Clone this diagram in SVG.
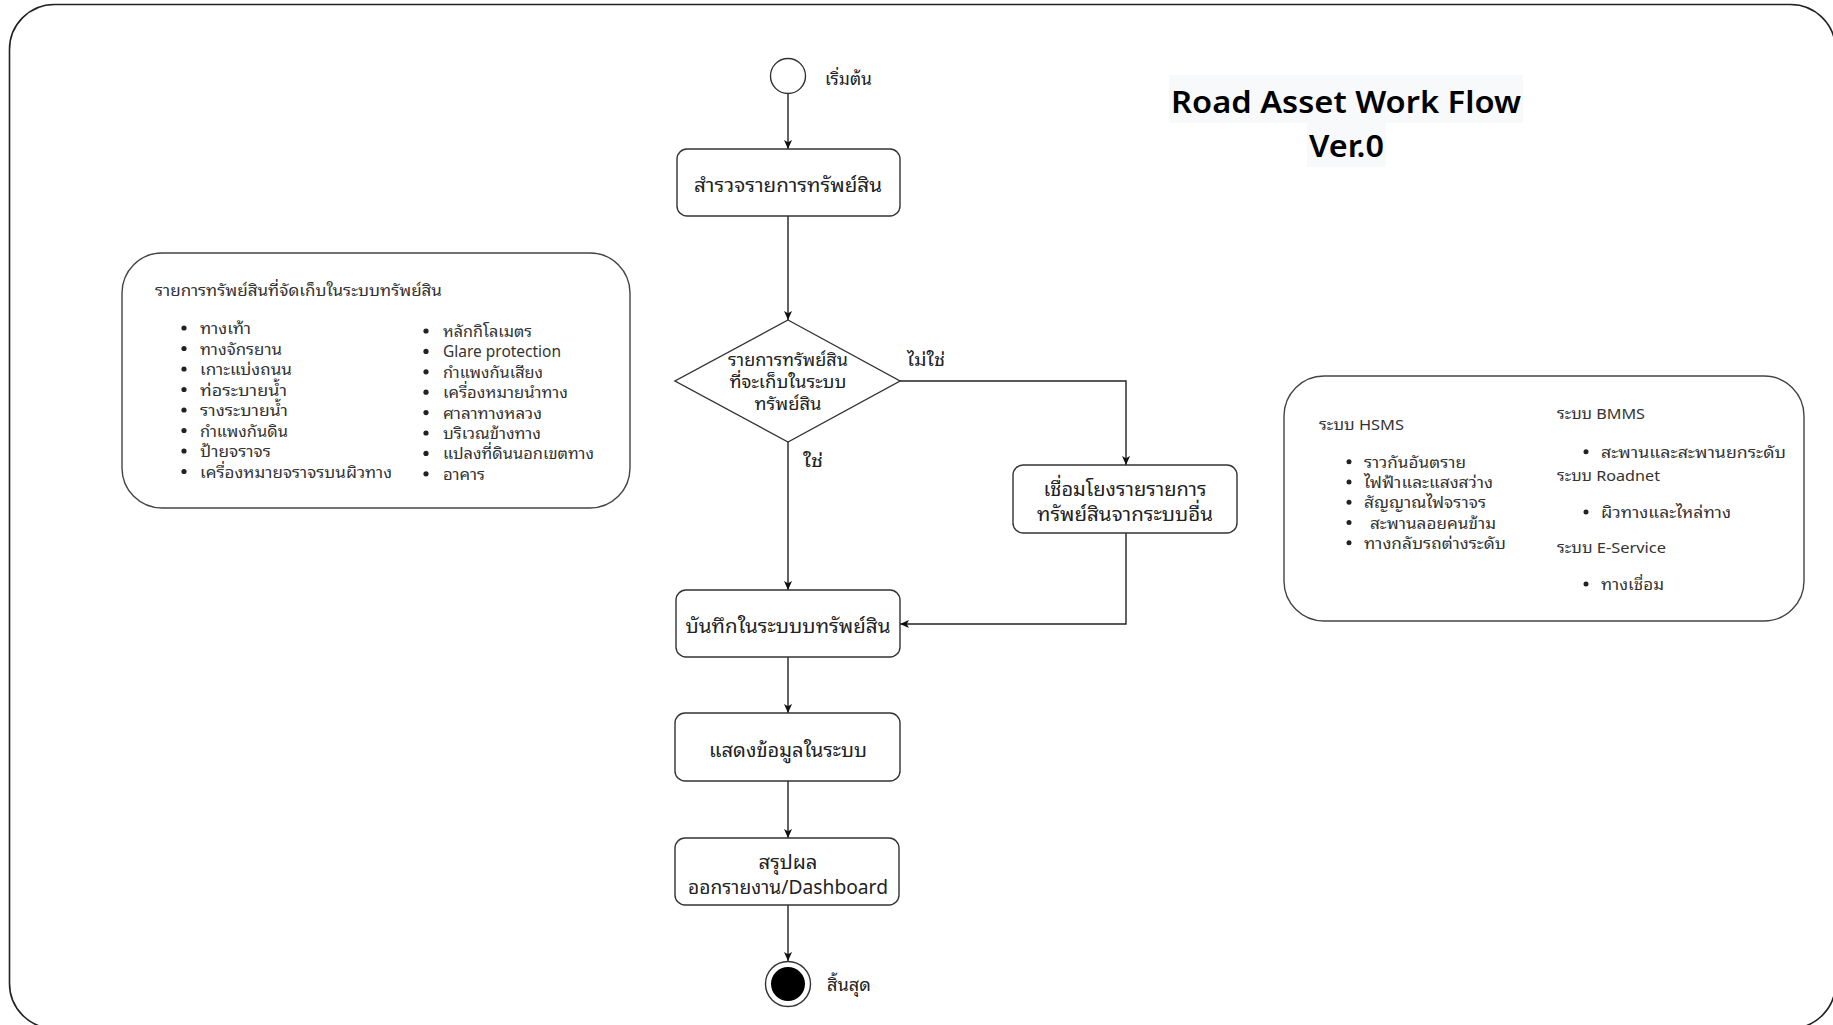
<svg xmlns="http://www.w3.org/2000/svg" width="1833" height="1025" viewBox="0 0 1833 1025">
<defs>
<marker id="arr" viewBox="0 0 10 10" refX="10" refY="5" markerWidth="9" markerHeight="9" markerUnits="userSpaceOnUse" orient="auto">
<path d="M0,0.5 L10,5 L0,9.5 L2.5,5 Z" fill="#111"/>
</marker>
<style>
.frame{fill:#fff;stroke:#222;stroke-width:1.6}
.box{fill:#fff;stroke:#333;stroke-width:1.4}
.note{fill:#fff;stroke:#444;stroke-width:1.4}
.conn{fill:none;stroke:#222;stroke-width:1.4}
text{font-family:"Noto Sans Thai Looped","Noto Sans Thai","Noto Sans","Open Sans","DejaVu Sans",sans-serif;fill:#222;dominant-baseline:central}
.t20{font-size:20px;text-anchor:middle}
.t17{font-size:17px}
.t17m{font-size:17px;text-anchor:middle}
.n16{font-size:16px;fill:#333}
.n15{font-size:15px;fill:#333}
.dot{fill:#222}
.title{font-family:"Noto Sans","Open Sans",sans-serif;font-weight:600;font-size:31px;fill:#000;dominant-baseline:alphabetic}
</style>
</defs>
<rect x="0" y="0" width="1833" height="1025" fill="#fff"/>
<rect class="frame" x="9.5" y="4.5" width="1826" height="1024" rx="45"/>

<g id="title">
<rect x="1169" y="75" width="354" height="48" fill="#f8f9fa"/>
<rect x="1307" y="123" width="79" height="44" fill="#f8f9fa"/>
<text class="title" x="1171" y="113" textLength="350" lengthAdjust="spacingAndGlyphs">Road Asset Work Flow</text>
<text class="title" x="1309" y="157" textLength="75" lengthAdjust="spacingAndGlyphs">Ver.0</text>
</g>

<g id="connectors">
<line class="conn" x1="788" y1="94" x2="788" y2="149" marker-end="url(#arr)"/>
<line class="conn" x1="788" y1="216" x2="788" y2="320" marker-end="url(#arr)"/>
<polyline class="conn" points="900,381 1126,381 1126,465" marker-end="url(#arr)"/>
<line class="conn" x1="788" y1="442" x2="788" y2="590" marker-end="url(#arr)"/>
<polyline class="conn" points="1126,533 1126,624 900,624" marker-end="url(#arr)"/>
<line class="conn" x1="788" y1="657" x2="788" y2="713" marker-end="url(#arr)"/>
<line class="conn" x1="788" y1="781" x2="788" y2="838" marker-end="url(#arr)"/>
<line class="conn" x1="788" y1="905" x2="788" y2="961" marker-end="url(#arr)"/>
<text class="t17" x="907" y="358" textLength="38" lengthAdjust="spacingAndGlyphs">ไม่ใช่</text>
<text class="t17" x="803" y="459" textLength="20" lengthAdjust="spacingAndGlyphs">ใช่</text>
</g>

<g id="start">
<circle cx="788" cy="76" r="17.5" fill="#fff" stroke="#333" stroke-width="1.4"/>
<text class="t17" x="825" y="77" textLength="47" lengthAdjust="spacingAndGlyphs">เริ่มต้น</text>
</g>

<g id="survey">
<rect class="box" x="677" y="149" width="223" height="67" rx="10"/>
<text class="t20" x="788" y="182.5" textLength="188" lengthAdjust="spacingAndGlyphs">สำรวจรายการทรัพย์สิน</text>
</g>

<g id="decision">
<polygon class="box" points="788,320 900,381 788,442 675,381"/>
<text class="t17m" x="788" y="358" textLength="120" lengthAdjust="spacingAndGlyphs">รายการทรัพย์สิน</text>
<text class="t17m" x="788" y="380" textLength="117" lengthAdjust="spacingAndGlyphs">ที่จะเก็บในระบบ</text>
<text class="t17m" x="788" y="402" textLength="67" lengthAdjust="spacingAndGlyphs">ทรัพย์สิน</text>
</g>

<g id="link">
<rect class="box" x="1013" y="465" width="224" height="68" rx="10"/>
<text class="t20" x="1125" y="487" textLength="163" lengthAdjust="spacingAndGlyphs">เชื่อมโยงรายรายการ</text>
<text class="t20" x="1125" y="512" textLength="176" lengthAdjust="spacingAndGlyphs">ทรัพย์สินจากระบบอื่น</text>
</g>

<g id="record">
<rect class="box" x="676" y="590" width="224" height="67" rx="10"/>
<text class="t20" x="788" y="623.5" textLength="205" lengthAdjust="spacingAndGlyphs">บันทึกในระบบบทรัพย์สิน</text>
</g>

<g id="display">
<rect class="box" x="675" y="713" width="225" height="68" rx="10"/>
<text class="t20" x="788" y="747.5" textLength="158" lengthAdjust="spacingAndGlyphs">แสดงข้อมูลในระบบ</text>
</g>

<g id="summary">
<rect class="box" x="675" y="838" width="224" height="67" rx="10"/>
<text class="t20" x="788" y="860" textLength="59" lengthAdjust="spacingAndGlyphs">สรุปผล</text>
<text class="t20" x="788" y="885" textLength="200" lengthAdjust="spacingAndGlyphs">ออกรายงาน/Dashboard</text>
</g>

<g id="end">
<circle cx="788" cy="984" r="22.5" fill="#fff" stroke="#333" stroke-width="1.4"/>
<circle cx="788" cy="984" r="17" fill="#000"/>
<text class="t17" x="827" y="983" textLength="44" lengthAdjust="spacingAndGlyphs">สิ้นสุด</text>
</g>

<g id="note-assets">
<rect class="note" x="122" y="253" width="508" height="255" rx="40"/>
<text class="n16" x="155" y="289" textLength="287" lengthAdjust="spacingAndGlyphs">รายการทรัพย์สินที่จัดเก็บในระบบทรัพย์สิน</text>
<circle class="dot" cx="184" cy="328" r="2.6"/><text class="n16" x="200" y="327" textLength="51" lengthAdjust="spacingAndGlyphs">ทางเท้า</text>
<circle class="dot" cx="184" cy="348.5" r="2.6"/><text class="n16" x="200" y="347.5" textLength="82" lengthAdjust="spacingAndGlyphs">ทางจักรยาน</text>
<circle class="dot" cx="184" cy="369" r="2.6"/><text class="n16" x="200" y="368" textLength="92" lengthAdjust="spacingAndGlyphs">เกาะแบ่งถนน</text>
<circle class="dot" cx="184" cy="389.5" r="2.6"/><text class="n16" x="200" y="388.5" textLength="87" lengthAdjust="spacingAndGlyphs">ท่อระบายน้ำ</text>
<circle class="dot" cx="184" cy="410" r="2.6"/><text class="n16" x="200" y="409" textLength="88" lengthAdjust="spacingAndGlyphs">รางระบายน้ำ</text>
<circle class="dot" cx="184" cy="430.5" r="2.6"/><text class="n16" x="200" y="429.5" textLength="88" lengthAdjust="spacingAndGlyphs">กำแพงกันดิน</text>
<circle class="dot" cx="184" cy="451" r="2.6"/><text class="n16" x="200" y="450" textLength="71" lengthAdjust="spacingAndGlyphs">ป้ายจราจร</text>
<circle class="dot" cx="184" cy="471.5" r="2.6"/><text class="n16" x="200" y="470.5" textLength="192" lengthAdjust="spacingAndGlyphs">เครื่องหมายจราจรบนผิวทาง</text>
<circle class="dot" cx="426" cy="331" r="2.6"/><text class="n16" x="443" y="330" textLength="89" lengthAdjust="spacingAndGlyphs">หลักกิโลเมตร</text>
<circle class="dot" cx="426" cy="351.4" r="2.6"/><text class="n16" x="443" y="350.4" textLength="118" lengthAdjust="spacingAndGlyphs">Glare protection</text>
<circle class="dot" cx="426" cy="371.8" r="2.6"/><text class="n16" x="443" y="370.8" textLength="100" lengthAdjust="spacingAndGlyphs">กำแพงกันเสียง</text>
<circle class="dot" cx="426" cy="392.2" r="2.6"/><text class="n16" x="443" y="391.2" textLength="125" lengthAdjust="spacingAndGlyphs">เครื่องหมายนำทาง</text>
<circle class="dot" cx="426" cy="412.6" r="2.6"/><text class="n16" x="443" y="411.6" textLength="99" lengthAdjust="spacingAndGlyphs">ศาลาทางหลวง</text>
<circle class="dot" cx="426" cy="433" r="2.6"/><text class="n16" x="443" y="432" textLength="98" lengthAdjust="spacingAndGlyphs">บริเวณข้างทาง</text>
<circle class="dot" cx="426" cy="453.4" r="2.6"/><text class="n16" x="443" y="452.4" textLength="151" lengthAdjust="spacingAndGlyphs">แปลงที่ดินนอกเขตทาง</text>
<circle class="dot" cx="426" cy="473.8" r="2.6"/><text class="n16" x="443" y="472.8" textLength="42" lengthAdjust="spacingAndGlyphs">อาคาร</text>
</g>

<g id="note-systems">
<rect class="note" x="1284" y="376" width="520" height="245" rx="40"/>
<text class="n15" x="1319" y="423" textLength="85" lengthAdjust="spacingAndGlyphs">ระบบ HSMS</text>
<circle class="dot" cx="1349" cy="461.7" r="2.5"/><text class="n15" x="1364" y="460.7" textLength="102" lengthAdjust="spacingAndGlyphs">ราวกันอันตราย</text>
<circle class="dot" cx="1349" cy="482" r="2.5"/><text class="n15" x="1364" y="481" textLength="129" lengthAdjust="spacingAndGlyphs">ไฟฟ้าและแสงสว่าง</text>
<circle class="dot" cx="1349" cy="502.3" r="2.5"/><text class="n15" x="1364" y="501.3" textLength="122" lengthAdjust="spacingAndGlyphs">สัญญาณไฟจราจร</text>
<circle class="dot" cx="1349" cy="522.5" r="2.5"/><text class="n15" x="1370" y="521.5" textLength="126" lengthAdjust="spacingAndGlyphs">สะพานลอยคนข้าม</text>
<circle class="dot" cx="1349" cy="542.7" r="2.5"/><text class="n15" x="1364" y="541.7" textLength="142" lengthAdjust="spacingAndGlyphs">ทางกลับรถต่างระดับ</text>
<text class="n15" x="1557" y="412" textLength="88" lengthAdjust="spacingAndGlyphs">ระบบ BMMS</text>
<circle class="dot" cx="1586" cy="451.7" r="2.5"/><text class="n15" x="1601" y="450.7" textLength="185" lengthAdjust="spacingAndGlyphs">สะพานและสะพานยกระดับ</text>
<text class="n15" x="1557" y="474" textLength="103" lengthAdjust="spacingAndGlyphs">ระบบ Roadnet</text>
<circle class="dot" cx="1586" cy="512" r="2.5"/><text class="n15" x="1601" y="511" textLength="130" lengthAdjust="spacingAndGlyphs">ผิวทางและไหล่ทาง</text>
<text class="n15" x="1557" y="546" textLength="109" lengthAdjust="spacingAndGlyphs">ระบบ E-Service</text>
<circle class="dot" cx="1586" cy="584" r="2.5"/><text class="n15" x="1601" y="583" textLength="63" lengthAdjust="spacingAndGlyphs">ทางเชื่อม</text>
</g>
</svg>
